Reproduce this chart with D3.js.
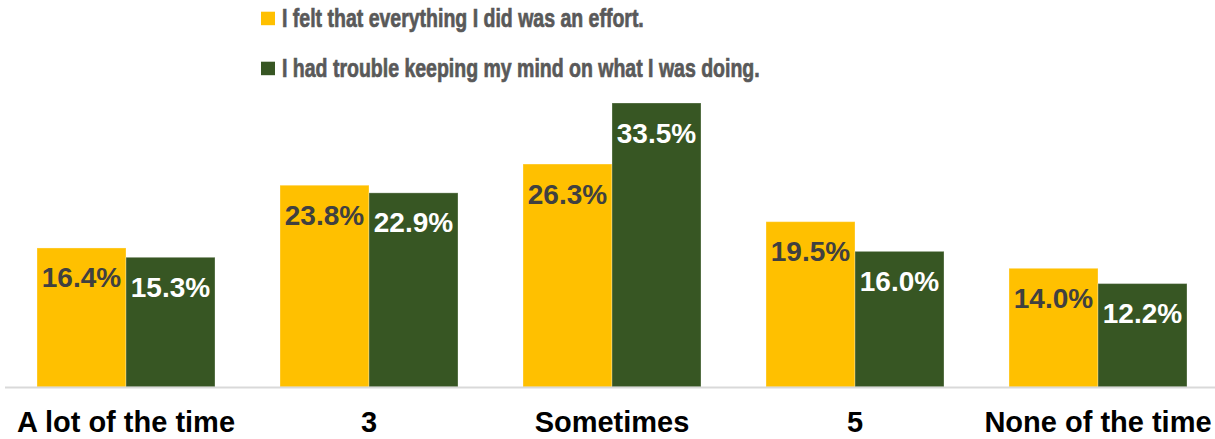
<!DOCTYPE html>
<html lang="en">
<head>
<meta charset="UTF-8">
<title>Chart</title>
<script src="https://d3js.org/d3.v7.min.js"></script>
<style>
    body { margin: 0; background: #fff; }
    svg { display: block; font-family: "Liberation Sans", Arial, sans-serif; }
</style>
</head>
<body>
<svg id="chart"></svg>
<script>
    // Data
    var categories = ["A lot of the time", "3", "Sometimes", "5", "None of the time"];
    var seriesNames = ["I felt that everything I did was an effort.",
                       "I had trouble keeping my mind on what I was doing."];
    var effortValues = [16.4, 23.8, 26.3, 19.5, 14.0];
    var troubleValues = [15.3, 22.9, 33.5, 16.0, 12.2];
    var colors = ["#FFC000", "#375623"];
    var labelColors = ["#404040", "#ffffff"];

    var W = 1215, H = 439;
    var baseY = 387;

    var svg = d3.select("#chart").attr("width", W).attr("height", H);

    var x0 = d3.scaleBand()
        .domain(categories)
        .range([4.5, 1219.5]);

    var x1 = d3.scaleBand()
        .domain([0, 1])
        .range([32.5, x0.bandwidth() - 32.5]);

    var y = d3.scaleLinear()
        .domain([0, 33.5])
        .range([baseY, 103]);

    var rows = categories.map((c, i) => ({ cat: c, vals: [effortValues[i], troubleValues[i]] }));

    var groups = svg.selectAll("g.grp")
        .data(rows)
        .enter()
        .append("g")
        .attr("class", "grp")
        .attr("transform", d => "translate(" + x0(d.cat) + ",0)");

    groups.each(function (d) {
        var g = d3.select(this);
        d.vals.forEach((v, s) => {
            g.append("rect")
                .attr("x", x1(s))
                .attr("y", y(v))
                .attr("width", x1.bandwidth())
                .attr("height", baseY - y(v))
                .attr("fill", colors[s])
                .attr("stroke", "#fff")
                .attr("stroke-opacity", 0.3)
                .attr("stroke-width", 1);
            g.append("text")
                .attr("x", x1(s) + x1.bandwidth() / 2)
                .attr("y", y(v) + 39.5)
                .attr("text-anchor", "middle")
                .attr("font-size", 28)
                .attr("font-weight", "bold")
                .attr("fill", labelColors[s])
                .text(v.toFixed(1) + "%");
        });
    });

    // baseline
    svg.append("line")
        .attr("x1", 5).attr("x2", W)
        .attr("y1", baseY + 0.5).attr("y2", baseY + 0.5)
        .attr("stroke", "#d9d9d9")
        .attr("stroke-width", 2);

    // category axis
    svg.selectAll("text.cat")
        .data(categories)
        .enter()
        .append("text")
        .attr("class", "cat")
        .attr("x", d => x0(d) + x0.bandwidth() / 2)
        .attr("y", 432)
        .attr("text-anchor", "middle")
        .attr("font-size", 29)
        .attr("font-weight", "bold")
        .attr("fill", "#000")
        .text(d => d);

    // legend (condensed bold text, as in the original)
    var legend = svg.selectAll("g.leg")
        .data(seriesNames)
        .enter()
        .append("g")
        .attr("class", "leg")
        .attr("transform", (d, i) => "translate(261," + (i * 50) + ")");

    legend.append("rect")
        .attr("x", 0).attr("y", 11.7)
        .attr("width", 14).attr("height", 13.5)
        .attr("fill", (d, i) => colors[i]);

    legend.append("text")
        .attr("transform", "translate(21,26.7) scale(0.765,1)")
        .attr("font-size", 25.5)
        .attr("font-weight", "bold")
        .attr("fill", "#595959")
        .attr("stroke", "#595959")
        .attr("stroke-width", 0.7)
        .text(d => d);
</script>
</body>
</html>
